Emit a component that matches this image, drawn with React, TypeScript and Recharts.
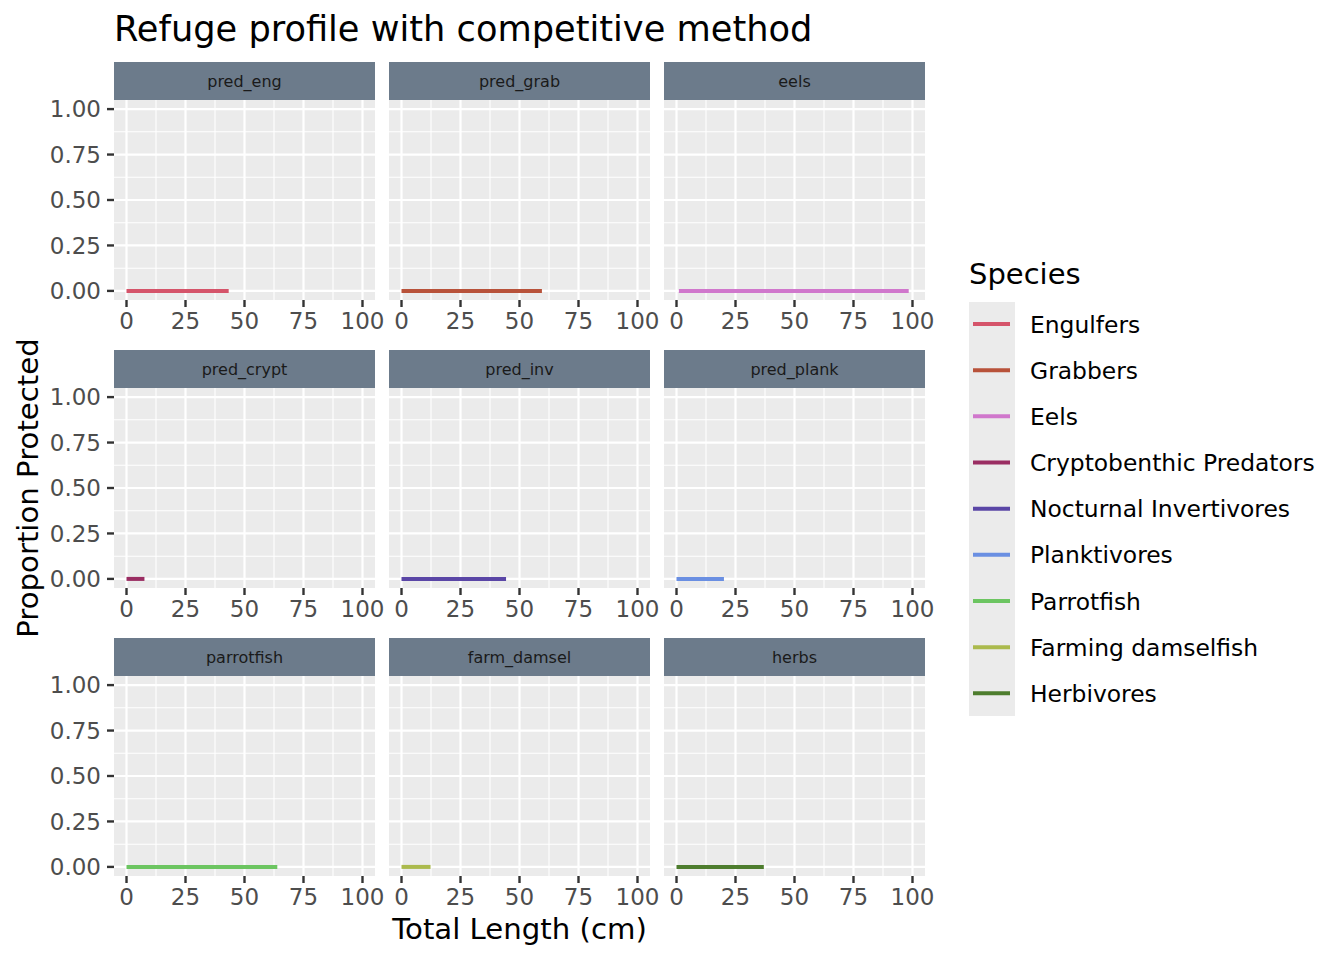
import React from 'react';
import { LineChart, Line, XAxis, YAxis, CartesianGrid } from 'recharts';

const facetNames = ['pred_eng', 'pred_grab', 'eels', 'pred_crypt', 'pred_inv', 'pred_plank', 'parrotfish', 'farm_damsel', 'herbs'];
const speciesLabels = ['Engulfers', 'Grabbers', 'Eels', 'Cryptobenthic Predators', 'Nocturnal Invertivores', 'Planktivores', 'Parrotfish', 'Farming damselfish', 'Herbivores'];
const speciesColors = ['#D5546A', '#B8523A', '#D077CC', '#9A2D62', '#5A46A6', '#6A8FE2', '#6CC561', '#ABBA4D', '#4E7D2E'];
const startLengths = [0, 0, 1, 0, 0, 0, 0, 0, 0];
const endLengths = [43.3, 59.5, 98.4, 7.6, 44.3, 20.1, 63.9, 12.3, 37];
const proportionProtected = [0, 0, 0, 0, 0, 0, 0, 0, 0];
const xTicks = [0, 25, 50, 75, 100];
const xMinor = [12.5, 37.5, 62.5, 87.5];
const yTicks = [0, 0.25, 0.5, 0.75, 1];
const yMinor = [0.125, 0.375, 0.625, 0.875];

const FONT = 'DejaVu Sans';
const PANEL_W = 261;
const PANEL_H = 200;
const COL_X = [114, 389, 664];
const ROW_Y = [100, 388, 676];
const STRIP_H = 38;
const Y_AXIS_W = 70;
const X_AXIS_H = 50;
const RIGHT_PAD = 24;
const TOP_PAD = 16;

function Panel({ idx }: { idx: number }) {
  const col = idx % 3;
  const row = Math.floor(idx / 3);
  const showY = col === 0;
  const yW = showY ? Y_AXIS_W : 0;
  const data = [
    { x: startLengths[idx], y: proportionProtected[idx] },
    { x: endLengths[idx], y: proportionProtected[idx] },
  ];
  const tickLine = { stroke: '#333333', strokeWidth: 2.4 };
  return (
    <>
      <div style={{ position: 'absolute', left: COL_X[col] - yW, top: ROW_Y[row] - TOP_PAD }}>
        <LineChart
          width={yW + PANEL_W + RIGHT_PAD}
          height={TOP_PAD + PANEL_H + X_AXIS_H}
          data={data}
          margin={{ top: TOP_PAD, right: RIGHT_PAD, bottom: 0, left: 0 }}
        >
          <CartesianGrid
            fill="#EBEBEB"
            stroke="#FFFFFF"
            strokeWidth={1.1}
            verticalValues={xMinor}
            horizontalValues={yMinor}
          />
          <CartesianGrid
            stroke="#FFFFFF"
            strokeWidth={2.2}
            verticalValues={xTicks}
            horizontalValues={yTicks}
          />
          <XAxis
            dataKey="x"
            type="number"
            domain={[-5.3, 105.3]}
            ticks={xTicks}
            interval={0}
            allowDataOverflow
            axisLine={false}
            tickLine={tickLine}
            tickSize={7}
            tickMargin={6}
            height={X_AXIS_H}
            tick={{ fill: '#4D4D4D', fontSize: 23, fontFamily: FONT }}
          />
          <YAxis
            type="number"
            domain={[-0.05, 1.05]}
            ticks={yTicks}
            interval={0}
            allowDataOverflow
            hide={!showY}
            width={Y_AXIS_W}
            axisLine={false}
            tickLine={tickLine}
            tickSize={7}
            tickMargin={6}
            tickFormatter={(v: number) => v.toFixed(2)}
            tick={{ fill: '#4D4D4D', fontSize: 23, fontFamily: FONT }}
          />
          <Line
            type="linear"
            dataKey="y"
            stroke={speciesColors[idx]}
            strokeWidth={4}
            dot={false}
            activeDot={false}
            isAnimationActive={false}
          />
        </LineChart>
      </div>
      <div
        style={{
          position: 'absolute',
          left: COL_X[col],
          top: ROW_Y[row] - STRIP_H,
          width: PANEL_W,
          height: STRIP_H,
          background: '#6C7B8B',
          color: '#1A1A1A',
          fontSize: 16,
          fontFamily: FONT,
          display: 'flex',
          alignItems: 'center',
          justifyContent: 'center',
        }}
      >
        {facetNames[idx]}
      </div>
    </>
  );
}

export default function App() {
  const keyY0 = 324;
  const keyStep = 46.17;
  return (
    <div
      style={{
        position: 'absolute',
        left: 0,
        top: 0,
        width: 1344,
        height: 960,
        background: '#FFFFFF',
        fontFamily: FONT,
        overflow: 'hidden',
      }}
    >
      {facetNames.map((_, i) => (
        <Panel key={i} idx={i} />
      ))}
      <svg
        width={1344}
        height={960}
        style={{ position: 'absolute', left: 0, top: 0, pointerEvents: 'none' }}
        fontFamily={FONT}
      >
        <text x={114} y={40.5} fontSize={35.2} fill="#000000">
          Refuge profile with competitive method
        </text>
        <text
          x={0}
          y={0}
          fontSize={29.2}
          fill="#000000"
          textAnchor="middle"
          transform={`translate(37.5, 488) rotate(-90)`}
        >
          Proportion Protected
        </text>
        <text x={519.5} y={938.5} fontSize={29.2} fill="#000000" textAnchor="middle">
          Total Length (cm)
        </text>
        <text x={969} y={284} fontSize={29} fill="#000000">
          Species
        </text>
        <rect x={969} y={302} width={46} height={414} fill="#EBEBEB" />
        {speciesLabels.map((lab, i) => {
          const y = keyY0 + i * keyStep;
          return (
            <g key={lab}>
              <line x1={973} x2={1010} y1={y} y2={y} stroke={speciesColors[i]} strokeWidth={4} />
              <text x={1030} y={y + 8.5} fontSize={23.4} fill="#000000">
                {lab}
              </text>
            </g>
          );
        })}
      </svg>
    </div>
  );
}
